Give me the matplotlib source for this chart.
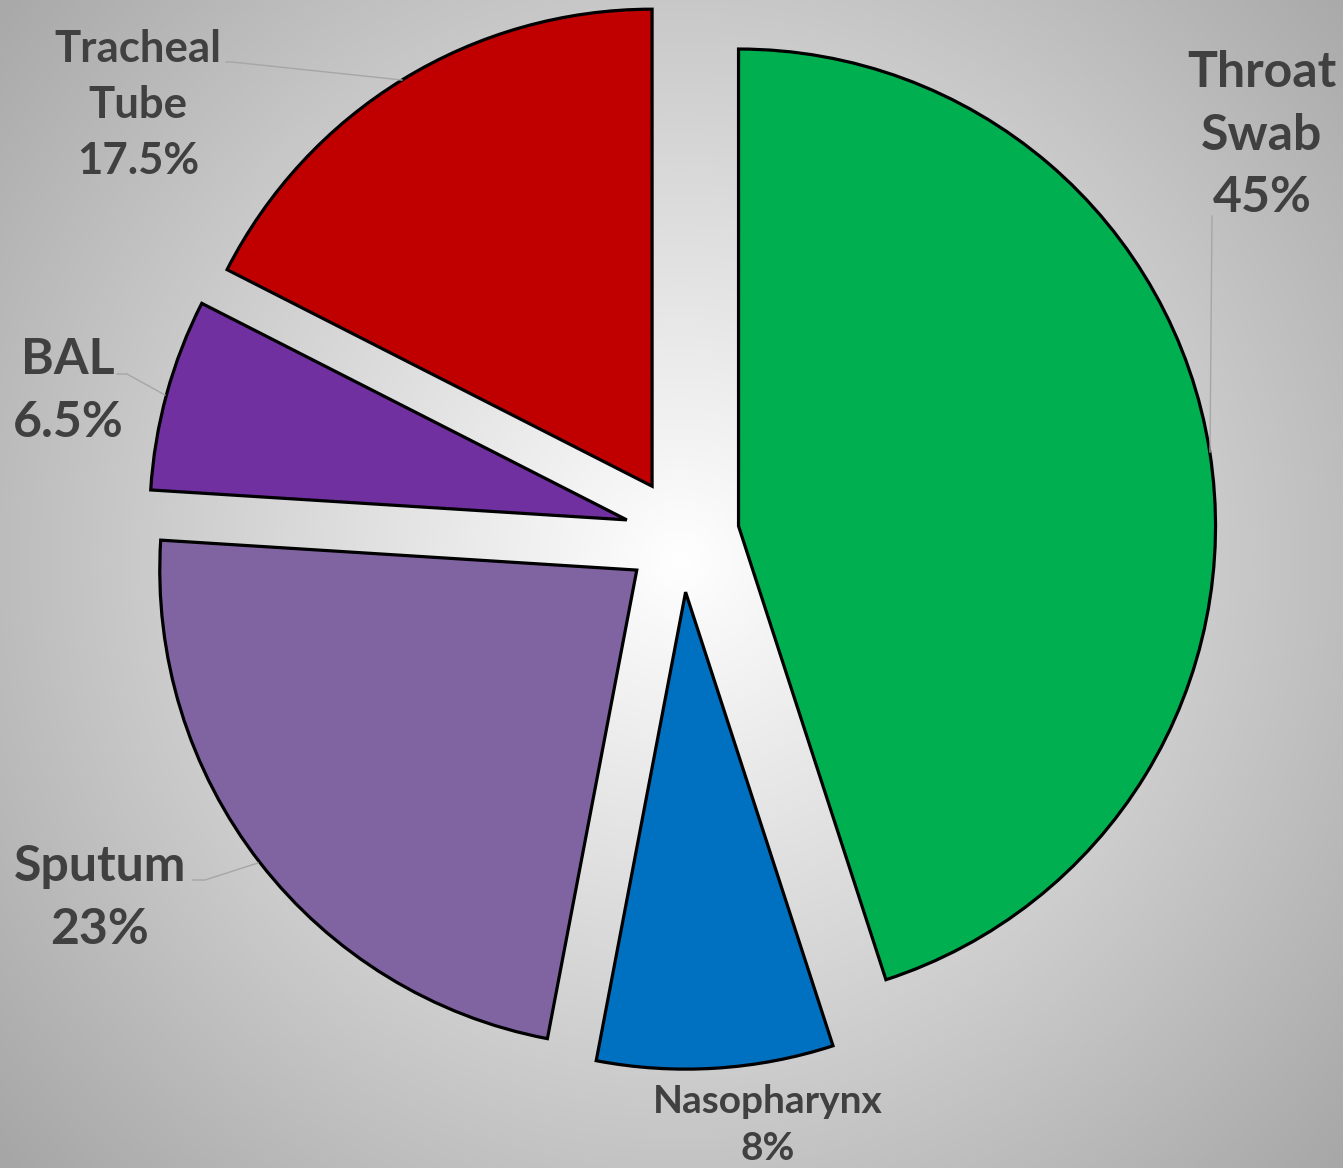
import numpy as np
import matplotlib
matplotlib.use('Agg')
from matplotlib import pyplot as plt

labels = ['Throat\nSwab', 'Nasopharynx', 'Sputum', 'BAL', 'Tracheal\nTube']
shares = [45, 8, 23, 6.5, 17.5]
pct_text = ['45%', '8%', '23%', '6.5%', '17.5%']
colors = ['#00B050', '#0070C0', '#8064A2', '#7030A0', '#C00000']

W, H = 1343, 1168
CX, CY, R = 682, 535, 477   # pie centre / radius in pixels


def px(x, y):
    # pixel position -> data coords (pie radius = 1)
    return (x - CX) / R, (CY - y) / R


def main():
    plt.rcParams['font.family'] = ['Lato', 'DejaVu Sans']
    fig = plt.figure(figsize=(W / 100, H / 100), dpi=100)
    ax = fig.add_axes([0, 0, 1, 1])
    x0, y1 = px(0, 0)
    x1, y0 = px(W, H)

    # radial grey gradient background
    gx, gy = np.meshgrid(np.arange(W), np.arange(H))
    d = np.hypot(gx - 680, gy - 560) / 881.0
    shade = 1 - 0.34 * d
    bg = np.dstack([shade, shade, shade])
    ax.imshow(bg, extent=(x0, x1, y0, y1), origin='upper', zorder=0,
              aspect='auto')

    ax.pie(shares, colors=colors, startangle=90, counterclock=False,
           radius=1, explode=[0.12] * 5, center=(0, 0),
           wedgeprops=dict(edgecolor='black', linewidth=2.3), frame=True)
    ax.set_xlim(x0, x1)
    ax.set_ylim(y0, y1)
    ax.set_aspect('equal')
    ax.axis('off')

    txt = '#404040'
    # label texts (pixel centres)
    pos = [(1262, 135), (768, 1125), (100, 898), (68, 391), (138, 105)]
    sizes = [36, 28, 36, 36, 31.5]
    spacing = [1.46, 1.44, 1.46, 1.5, 1.49]
    for lab, p, (x, y), fs, ls in zip(labels, pct_text, pos, sizes, spacing):
        tx, ty = px(x, y)
        ax.text(tx, ty, lab + '\n' + p, ha='center', va='center',
                fontsize=fs, fontweight='bold', color=txt,
                linespacing=ls, zorder=5)

    # leader lines
    leaders = [
        [(1212, 216), (1210, 452)],
        [(193, 880), (205, 880), (258, 863)],
        [(117, 374), (127, 374), (165, 395)],
        [(226, 62), (232, 62), (402, 80)],
    ]
    for pts in leaders:
        xy = np.array([px(*q) for q in pts])
        ax.plot(xy[:, 0], xy[:, 1], color='#A6A6A6', lw=1.0, zorder=4)

    fig.savefig('out.png', dpi=100)


if __name__ == "__main__":
    main()
